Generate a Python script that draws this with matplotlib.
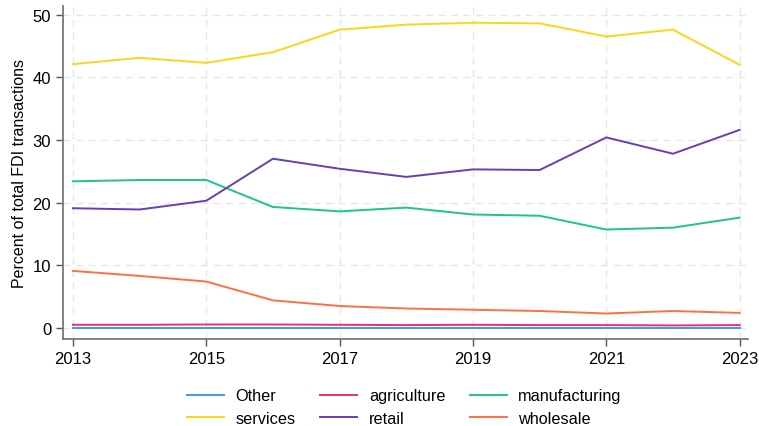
import matplotlib
matplotlib.use("Agg")
import matplotlib.pyplot as plt

plt.rcParams['font.family'] = ['Liberation Sans', 'DejaVu Sans']

years = list(range(2013, 2024))
other = [0.05, 0.05, 0.05, 0.05, 0.05, 0.05, 0.05, 0.05, 0.05, 0.05, 0.05]
agriculture = [0.5, 0.5, 0.55, 0.55, 0.5, 0.45, 0.5, 0.45, 0.45, 0.4, 0.45]
manufacturing = [23.4, 23.6, 23.6, 19.3, 18.6, 19.2, 18.1, 17.9, 15.7, 16.0, 17.6]
services = [42.1, 43.1, 42.3, 44.0, 47.6, 48.4, 48.7, 48.6, 46.5, 47.6, 42.0]
retail = [19.1, 18.9, 20.3, 27.0, 25.4, 24.1, 25.3, 25.2, 30.4, 27.8, 31.6]
wholesale = [9.1, 8.3, 7.4, 4.4, 3.5, 3.1, 2.9, 2.7, 2.3, 2.7, 2.4]

series = [
    ("Other", other, "#3a9af0"),
    ("agriculture", agriculture, "#e5316c"),
    ("manufacturing", manufacturing, "#1dc48c"),
    ("services", services, "#ffd31a"),
    ("retail", retail, "#6a3db0"),
    ("wholesale", wholesale, "#ff6f45"),
]

fig = plt.figure(figsize=(7.59, 4.27), dpi=100)
ax = fig.add_axes([0.083, 0.204, 0.902, 0.78])

lines = {}
for name, vals, col in series:
    lines[name], = ax.plot(years, vals, color=col, lw=1.4, label=name)

ax.set_xlim(2012.85, 2023.12)
ax.set_ylim(-1.75, 51.4)
ax.set_xticks(range(2013, 2024, 2))
ax.set_yticks(range(0, 51, 10))
ax.tick_params(labelsize=12, length=5, color="#555555", width=1)
ax.grid(True, ls=(0, (5, 4)), color="#e6e6e6", lw=1)
ax.set_axisbelow(True)
for s in ["top", "right"]:
    ax.spines[s].set_visible(False)
for s in ["left", "bottom"]:
    ax.spines[s].set_color("#777777")
    ax.spines[s].set_linewidth(1.3)
ax.set_ylabel("Percent of total FDI transactions", fontsize=11.5)

# legend filled row by row like the original
order = ["Other", "services", "agriculture", "retail", "manufacturing", "wholesale"]
ax.legend([lines[n] for n in order], order, loc="upper center",
          bbox_to_anchor=(0.4985, -0.105), ncol=3, frameon=False,
          fontsize=11.7, handlelength=2.3, columnspacing=1.5, labelspacing=0.45,
          handletextpad=0.7)

fig.savefig("out.png", dpi=100)
